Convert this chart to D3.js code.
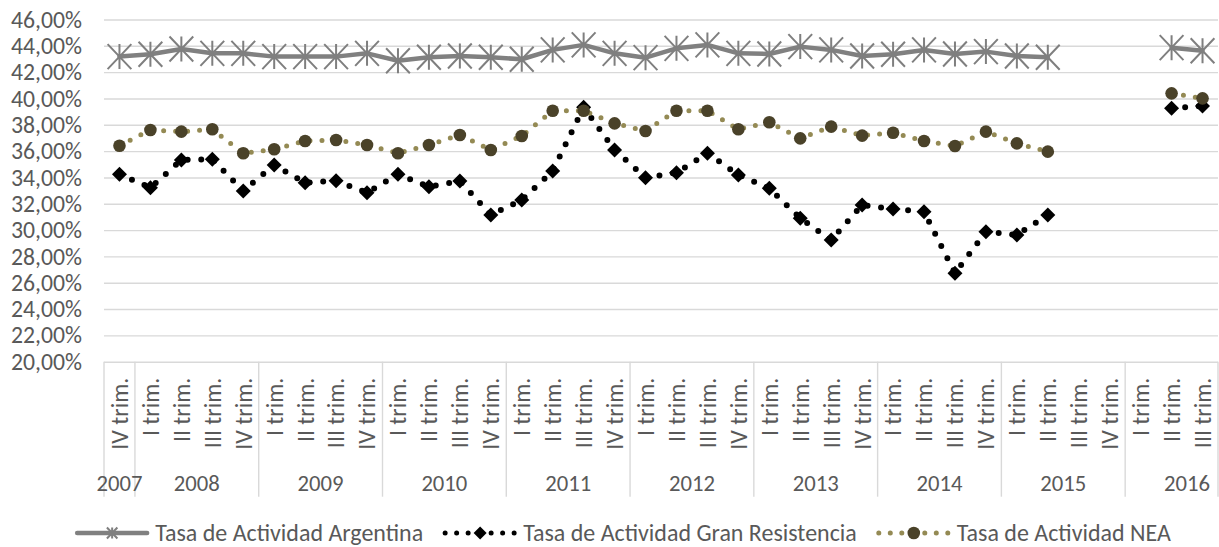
<!DOCTYPE html>
<html>
<head>
<meta charset="utf-8">
<script src="https://cdn.jsdelivr.net/npm/d3@7.9.0/dist/d3.min.js"></script>
<style>
  body { margin: 0; background: #fff; }
  svg { display: block; font-family: Calibri, Carlito, Lato, sans-serif; }
  .lbl { fill: #595959; }
</style>
</head>
<body>
<div id="chart"></div>
<script>
// años y trimestres del eje de categorías
const years = ['2007', '2008', '2009', '2010', '2011', '2012', '2013', '2014', '2015', '2016'];
const quartersByYear = [
  ['IV'],
  ['I', 'II', 'III', 'IV'], ['I', 'II', 'III', 'IV'], ['I', 'II', 'III', 'IV'],
  ['I', 'II', 'III', 'IV'], ['I', 'II', 'III', 'IV'], ['I', 'II', 'III', 'IV'],
  ['I', 'II', 'III', 'IV'], ['I', 'II', 'III', 'IV'],
  ['I', 'II', 'III']
];

// series (%), null = sin dato
const argentina = [43.18, 43.36, 43.76, 43.43, 43.43, 43.18, 43.18, 43.18, 43.43, 42.87,
  43.13, 43.23, 43.13, 42.98, 43.69, 44.07, 43.43, 43.10, 43.81, 44.07,
  43.43, 43.38, 43.94, 43.69, 43.23, 43.36, 43.69, 43.38, 43.56, 43.23,
  43.13, null, null, null, 43.86, 43.63];
const granResistencia = [34.24, 33.22, 35.33, 35.38, 32.97, 34.95, 33.60, 33.75, 32.84, 34.24,
  33.30, 33.73, 31.15, 32.29, 34.49, 39.33, 36.09, 33.98, 34.36, 35.84,
  34.19, 33.18, 30.90, 29.25, 31.91, 31.60, 31.40, 26.72, 29.88, 29.63,
  31.15, null, null, null, 39.26, 39.43];
const nea = [36.41, 37.61, 37.48, 37.66, 35.84, 36.14, 36.77, 36.85, 36.47, 35.84,
  36.47, 37.23, 36.09, 37.15, 39.07, 39.07, 38.11, 37.53, 39.07, 39.07,
  37.66, 38.19, 36.97, 37.86, 37.18, 37.40, 36.77, 36.39, 37.48, 36.59,
  35.96, null, null, null, 40.39, 40.01];

const yTicks = [20, 22, 24, 26, 28, 30, 32, 34, 36, 38, 40, 42, 44, 46];
const seriesNames = ['Tasa de Actividad Argentina', 'Tasa de Actividad Gran Resistencia', 'Tasa de Actividad NEA'];

// categorías planas
const categories = years.flatMap((y, i) => quartersByYear[i].map(q => ({ key: y + '-' + q, year: y, label: q + ' trim.' })));

const W = 1219, H = 547;
const margin = { top: 19.5, right: 1, bottom: 185.3, left: 104 };
const fontFamily = 'Calibri, Carlito, Lato, sans-serif';

const svg = d3.select('#chart').append('svg')
  .attr('width', W).attr('height', H);

// tamaño de fuente para que un texto mida lo mismo que en el original
function fitSize(str, target) {
  const t = svg.append('text').style('font-size', '100px').text(str);
  const w = t.node().getComputedTextLength();
  t.remove();
  return (100 * target / w).toFixed(2) + 'px';
}
const fsY = fitSize('46,00%', 71);
const fsQ = fitSize('IV trim.', 72);
const fsYear = fitSize('2007', 46);
const fsLeg = fitSize(seriesNames[0], 268);

const x = d3.scaleBand()
  .domain(categories.map(d => d.key))
  .range([margin.left, W - margin.right])
  .paddingInner(0).paddingOuter(0);
const y = d3.scaleLinear()
  .domain([20, 46])
  .range([H - margin.bottom, margin.top]);
const cx = i => x(categories[i].key) + x.bandwidth() / 2;

const es = d3.formatLocale({ decimal: ',', thousands: '.', grouping: [3], currency: ['', '€'] });
const pct = v => es.format('.2f')(v) + '%';

// líneas de cuadrícula + etiquetas del eje Y
svg.append('g')
  .attr('transform', `translate(${margin.left},0)`)
  .call(d3.axisLeft(y).tickValues(yTicks).tickFormat(pct)
    .tickSize(-(W - margin.left - margin.right)).tickPadding(22))
  .call(g => g.select('.domain').remove())
  .call(g => g.selectAll('.tick line').attr('stroke', '#d9d9d9').attr('stroke-width', 1.4))
  .call(g => g.selectAll('.tick text').attr('class', 'lbl')
    .style('font-size', fsY).style('font-family', fontFamily));

// eje de categorías en dos niveles
const axisTop = y(20);
const axisBottom = axisTop + 135;
const groups = years.map((yr, i) => {
  const cats = categories.filter(c => c.year === yr);
  return { year: yr, first: cats[0].key, n: cats.length };
});

const catAxis = svg.append('g');
// separadores de años
const bounds = groups.map(g => x(g.first)).concat([x.range()[1]]);
catAxis.selectAll('line.sep').data(bounds).join('line')
  .attr('x1', d => d).attr('x2', d => d)
  .attr('y1', axisTop).attr('y2', axisBottom)
  .attr('stroke', '#d9d9d9').attr('stroke-width', 1.4);

// trimestres rotados
catAxis.selectAll('text.q').data(categories).join('text')
  .attr('class', 'lbl')
  .attr('transform', (d, i) => `translate(${cx(i)},${axisTop + 16}) rotate(-90)`)
  .attr('text-anchor', 'end')
  .attr('dy', '0.35em')
  .style('font-size', fsQ)
  .text(d => d.label);

// años (el último grupo se centra como si tuviera cuatro trimestres)
catAxis.selectAll('text.y').data(groups).join('text')
  .attr('class', 'lbl')
  .attr('x', g => {
    const span = g.n === 3 ? 4 : g.n;
    return x(g.first) + span * x.bandwidth() / 2;
  })
  .attr('y', axisTop + 121)
  .attr('text-anchor', 'middle')
  .attr('dy', '0.35em')
  .style('font-size', fsYear)
  .text(g => g.year);

// series
const line = d3.line()
  .defined(d => d.v != null)
  .x(d => cx(d.i))
  .y(d => y(d.v));
const pts = arr => arr.map((v, i) => ({ i, v }));

const starPath = s => `M0,${-s}V${s}M${-s * 0.95},${-s}L${s * 0.95},${s}M${s * 0.95},${-s}L${-s * 0.95},${s}`;
const diamondPath = s => `M0,${-s}L${s},0L0,${s}L${-s},0Z`;

const styles = [
  { data: argentina, stroke: '#808080', width: 4.5, dash: null,
    marker: (g, s) => g.append('path').attr('d', starPath(s)).attr('stroke', '#7f7f7f').attr('stroke-width', 2).attr('fill', 'none'),
    size: 12.5, legendSize: 5.5 },
  { data: granResistencia, stroke: '#000', width: 6, dash: '0 13.6',
    marker: (g, s) => g.append('path').attr('d', diamondPath(s)).attr('fill', '#000'),
    size: 7.5, legendSize: 6.5 },
  { data: nea, stroke: '#948a54', width: 5, dash: '0 12',
    marker: (g, s) => g.append('circle').attr('r', s).attr('fill', '#4a4229'),
    size: 6.3, legendSize: 6.3 }
];

styles.forEach(st => {
  const g = svg.append('g');
  g.append('path')
    .datum(pts(st.data))
    .attr('d', line)
    .attr('fill', 'none')
    .attr('stroke', st.stroke)
    .attr('stroke-width', st.width)
    .attr('stroke-linecap', 'round')
    .attr('stroke-linejoin', 'round')
    .attr('stroke-dasharray', st.dash);
  pts(st.data).filter(d => d.v != null).forEach(d => {
    const m = g.append('g').attr('transform', `translate(${cx(d.i)},${y(d.v)})`);
    st.marker(m, st.size);
  });
});

// leyenda
const legY = 533;
const leg = svg.append('g');
const texts = seriesNames.map(n => leg.append('text').attr('class', 'lbl')
  .attr('dy', '0.35em').attr('y', legY).style('font-size', fsLeg).text(n));
const widths = texts.map(t => t.node().getComputedTextLength());
const total = 35 + 43 * 3 + 57 * 2 + d3.sum(widths);
let c = 624 - total / 2 + 35;
styles.forEach((st, i) => {
  const lg = leg.append('g').attr('transform', `translate(${c},${legY})`);
  lg.append('line').attr('x1', -35).attr('x2', 35)
    .attr('stroke', st.stroke).attr('stroke-width', i === 0 ? 4.5 : 5)
    .attr('stroke-linecap', 'round')
    .attr('stroke-dasharray', st.dash ? '0 11.5' : null);
  st.marker(lg, st.legendSize);
  texts[i].attr('x', c + 43);
  c += 43 + widths[i] + 57;
});
</script>
</body>
</html>
